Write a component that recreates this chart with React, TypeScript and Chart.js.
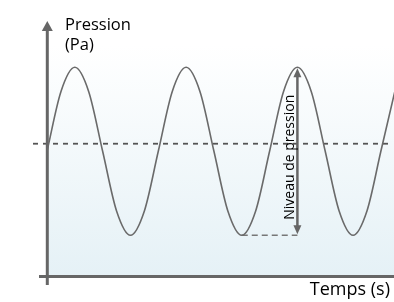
import React, { useEffect, useRef } from "react";
import { Chart, registerables } from "chart.js";

Chart.register(...registerables);

// Time in periods (s), pressure in relative units
const times = [
  0, 0.125, 0.25, 0.375, 0.5, 0.625, 0.75, 0.875,
  1, 1.125, 1.25, 1.375, 1.5, 1.625, 1.75, 1.875,
  2, 2.125, 2.25, 2.375, 2.5, 2.625, 2.75, 2.875,
  3, 3.125,
];
const pressure = [
  0, 0.71, 1, 0.71, 0, -0.71, -1, -0.71,
  0, 0.71, 1, 0.71, 0, -0.71, -1, -0.71,
  0, 0.71, 1, 0.71, 0, -0.71, -1, -0.71,
  0, 0.71,
];
const referenceLevel = 0.09;
const peakTime = 2.25;
const peakValue = 1;
const troughTime = 1.75;
const troughValue = -1;

const yAxisLabel = ["Pression", "(Pa)"];
const xAxisLabel = "Temps (s)";
const amplitudeLabel = "Niveau de pression";

const FONT = '"Open Sans", "Noto Sans", sans-serif';

const decorPlugin = {
  id: "decor",
  beforeDatasetsDraw(chart: any) {
    const { ctx, chartArea } = chart;
    const xs = chart.scales.x;
    const ys = chart.scales.y;
    const x0 = xs.getPixelForValue(0);
    const yBase = chartArea.bottom;
    ctx.save();
    // background gradient
    const g = ctx.createLinearGradient(0, 45, 0, yBase);
    g.addColorStop(0, "#ffffff");
    g.addColorStop(1, "#e5f1f6");
    ctx.fillStyle = g;
    ctx.fillRect(x0, 0, chart.width - x0, yBase);

    // reference dashed line
    const yRef = ys.getPixelForValue(referenceLevel);
    ctx.strokeStyle = "#555555";
    ctx.lineWidth = 1.8;
    ctx.setLineDash([5, 5]);
    ctx.beginPath();
    ctx.moveTo(33, yRef);
    ctx.lineTo(chart.width - 3, yRef);
    ctx.stroke();

    // trough dashed line
    const yTr = ys.getPixelForValue(troughValue);
    ctx.strokeStyle = "#777777";
    ctx.lineWidth = 1.5;
    ctx.setLineDash([6, 4]);
    ctx.beginPath();
    ctx.moveTo(xs.getPixelForValue(troughTime), yTr);
    ctx.lineTo(xs.getPixelForValue(peakTime), yTr);
    ctx.stroke();
    ctx.setLineDash([]);

    // axes
    ctx.strokeStyle = "#666666";
    ctx.fillStyle = "#666666";
    ctx.lineWidth = 3;
    ctx.beginPath();
    ctx.moveTo(39, yBase + 0.5);
    ctx.lineTo(chart.width, yBase + 0.5);
    ctx.stroke();
    ctx.beginPath();
    ctx.moveTo(x0 + 0.3, yBase + 9);
    ctx.lineTo(x0 + 0.3, 30);
    ctx.stroke();
    ctx.beginPath();
    ctx.moveTo(x0 + 0.3, 21);
    ctx.lineTo(x0 + 5.8, 31);
    ctx.lineTo(x0 - 5.2, 31);
    ctx.closePath();
    ctx.fill();

    // amplitude double arrow
    const xa = xs.getPixelForValue(peakTime);
    const yTop = ys.getPixelForValue(peakValue) + 1;
    const yBot = yTr - 1;
    ctx.lineWidth = 2.5;
    ctx.beginPath();
    ctx.moveTo(xa, yTop + 6);
    ctx.lineTo(xa, yBot - 6);
    ctx.stroke();
    ctx.beginPath();
    ctx.moveTo(xa, yTop);
    ctx.lineTo(xa + 4, yTop + 9);
    ctx.lineTo(xa - 4, yTop + 9);
    ctx.closePath();
    ctx.fill();
    ctx.beginPath();
    ctx.moveTo(xa, yBot);
    ctx.lineTo(xa + 4, yBot - 9);
    ctx.lineTo(xa - 4, yBot - 9);
    ctx.closePath();
    ctx.fill();
    ctx.restore();
  },
  afterDraw(chart: any) {
    const { ctx } = chart;
    const xs = chart.scales.x;
    const ys = chart.scales.y;
    ctx.save();
    ctx.fillStyle = "#000000";
    ctx.font = `16.5px ${FONT}`;
    ctx.textBaseline = "alphabetic";
    ctx.textAlign = "left";
    ctx.fillText(yAxisLabel[0], 65, 29.5);
    ctx.fillText(yAxisLabel[1], 65, 50);
    ctx.textAlign = "right";
    ctx.font = `18px ${FONT}`;
    ctx.fillText(xAxisLabel, 390, 294.5);
    // rotated label
    const xa = xs.getPixelForValue(peakTime);
    const yMid = (ys.getPixelForValue(peakValue) + ys.getPixelForValue(troughValue)) / 2 + 6;
    ctx.translate(xa - 3.5, yMid);
    ctx.rotate(-Math.PI / 2);
    ctx.textAlign = "center";
    ctx.font = `14px ${FONT}`;
    ctx.fillText(amplitudeLabel, 0, 0);
    ctx.restore();
  },
};

export default function App() {
  const ref = useRef<HTMLCanvasElement | null>(null);
  useEffect(() => {
    if (!ref.current) return;
    const chart = new Chart(ref.current, {
      type: "line",
      data: {
        labels: times,
        datasets: [
          {
            data: times.map((t, i) => ({ x: t, y: pressure[i] })),
            borderColor: "#6a6a6a",
            borderWidth: 1.6,
            pointRadius: 0,
            cubicInterpolationMode: "monotone",
            fill: false,
          },
        ],
      },
      options: {
        animation: false,
        responsive: false,
        devicePixelRatio: 1,
        layout: { padding: { left: 47, right: 0, top: 20, bottom: 26 } },
        plugins: { legend: { display: false }, tooltip: { enabled: false }, title: { display: false } },
        scales: {
          x: { type: "linear", min: 0, max: 3.118, display: false },
          y: { type: "linear", min: -1.485, max: 1.563, display: false },
        },
      },
      plugins: [decorPlugin],
    });
    return () => chart.destroy();
  }, []);
  return (
    <div style={{ position: "absolute", left: 0, top: 0, width: 394, height: 302 }}>
      <canvas ref={ref} width={394} height={302} style={{ width: 394, height: 302 }} />
    </div>
  );
}
